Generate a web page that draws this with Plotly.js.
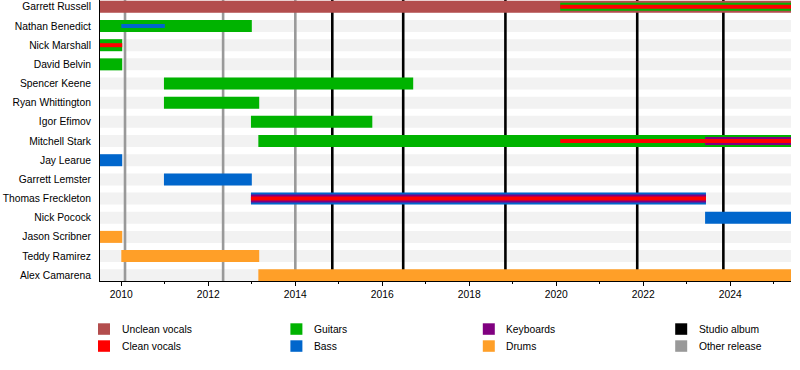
<!DOCTYPE html>
<html>
<head>
<meta charset="utf-8">
<script src="https://cdn.plot.ly/plotly-3.0.1.min.js"></script>
<style>
html,body{margin:0;padding:0;background:#fff;}
#chart{width:800px;height:370px;}
</style>
</head>
<body>
<div id="chart"></div>
<script>
// ---------------- DATA ----------------
const members = ['Garrett Russell','Nathan Benedict','Nick Marshall','David Belvin','Spencer Keene',
  'Ryan Whittington','Igor Efimov','Mitchell Stark','Jay Learue','Garrett Lemster',
  'Thomas Freckleton','Nick Pocock','Jason Scribner','Teddy Ramirez','Alex Camarena'];

const timelineStart = 2009.51;
const timelineEnd = 2025.395;
const tickYears = [2010, 2012, 2014, 2016, 2018, 2020, 2022, 2024];

// [member, from, to, rank]  (rank 1 = main role, 2 = second role, 3 = third role)
const uncleanVocals = [
  ['Garrett Russell', 2009.4, 2025.5, 1]
];
const guitars = [
  ['Nathan Benedict', 2009.4, 2013.0, 1],
  ['Nick Marshall', 2009.4, 2010.02, 1],
  ['David Belvin', 2009.4, 2010.02, 1],
  ['Spencer Keene', 2010.98, 2016.71, 1],
  ['Ryan Whittington', 2010.98, 2013.17, 1],
  ['Igor Efimov', 2012.98, 2015.77, 1],
  ['Mitchell Stark', 2013.15, 2025.5, 1],
  ['Garrett Russell', 2020.09, 2025.5, 2]
];
const bass = [
  ['Jay Learue', 2009.4, 2010.02, 1],
  ['Garrett Lemster', 2010.98, 2013.0, 1],
  ['Thomas Freckleton', 2012.98, 2023.44, 1],
  ['Nick Pocock', 2023.42, 2025.5, 1],
  ['Nathan Benedict', 2010.0, 2011.0, 3]
];
const drums = [
  ['Jason Scribner', 2009.4, 2010.02, 1],
  ['Teddy Ramirez', 2010.0, 2013.17, 1],
  ['Alex Camarena', 2013.15, 2025.5, 1]
];
const keyboards = [
  ['Thomas Freckleton', 2012.98, 2023.44, 2],
  ['Mitchell Stark', 2023.42, 2025.5, 2]
];
const cleanVocals = [
  ['Garrett Russell', 2020.09, 2025.5, 3],
  ['Nick Marshall', 2009.4, 2010.02, 3],
  ['Thomas Freckleton', 2012.98, 2023.44, 3],
  ['Mitchell Stark', 2020.09, 2025.5, 3]
];
const studioAlbums = [2014.85, 2016.48, 2018.83, 2021.86, 2023.84];
const otherReleases = [2010.085, 2012.34, 2014.0];

const legendLabels = ['Unclean vocals','Clean vocals','Guitars','Bass','Keyboards','Drums','Studio album','Other release'];

// ---------------- STYLE ----------------
const roleColors = {
  'Unclean vocals': '#b34d4d',
  'Clean vocals': '#ff0000',
  'Guitars': '#00b300',
  'Bass': '#0066cc',
  'Keyboards': '#800080',
  'Drums': '#ff9f28',
  'Studio album': '#000000',
  'Other release': '#999999'
};
const roles = [
  ['Unclean vocals', uncleanVocals],
  ['Guitars', guitars],
  ['Bass', bass],
  ['Drums', drums],
  ['Keyboards', keyboards],
  ['Clean vocals', cleanVocals]
];
const rowPx = 19.17;
const rankWidth = {1: 12 / rowPx, 2: 8 / rowPx, 3: 4 / rowPx};
const W = 800, H = 370;
const M = {l: 100, r: 9, t: 0, b: 89};
const FONT = 'Liberation Sans, Arial, sans-serif';
const FS = 10.3;

const traces = [];
[1, 2, 3].forEach(rank => {
  roles.forEach(([role, list]) => {
    const rows = list.filter(r => r[3] === rank);
    if (!rows.length) return;
    traces.push({
      type: 'bar', orientation: 'h',
      y: rows.map(r => members.indexOf(r[0])),
      base: rows.map(r => r[1]),
      x: rows.map(r => r[2] - r[1]),
      width: rows.map(() => rankWidth[rank]),
      marker: {color: roleColors[role], line: {width: 0}},
      hoverinfo: 'skip', showlegend: false, name: role
    });
  });
});

const shapes = [];
members.forEach((m, i) => {
  shapes.push({type: 'rect', layer: 'below', xref: 'paper', yref: 'y',
    x0: 0, x1: 1, y0: i - rankWidth[1] / 2, y1: i + rankWidth[1] / 2,
    fillcolor: '#f2f2f2', line: {width: 0}});
});
otherReleases.forEach(d => shapes.push({type: 'line', layer: 'below', xref: 'x', yref: 'paper',
  x0: d, x1: d, y0: 0, y1: 1, line: {color: roleColors['Other release'], width: 2.6}}));
studioAlbums.forEach(d => shapes.push({type: 'line', layer: 'below', xref: 'x', yref: 'paper',
  x0: d, x1: d, y0: 0, y1: 1, line: {color: roleColors['Studio album'], width: 2.6}}));

// legend built from labels/colors
const pw = W - M.l - M.r, ph = H - M.t - M.b;
const px2x = px => (px - M.l) / pw;
const py2y = py => (H - M.b - py) / ph;
const annotations = [];
legendLabels.forEach((lab, k) => {
  const col = Math.floor(k / 2), row = k % 2;
  const sx = 98 + col * 192.4, sy = 323.3 + row * 17;
  shapes.push({type: 'rect', xref: 'paper', yref: 'paper',
    x0: px2x(sx), x1: px2x(sx + 12), y0: py2y(sy + 11.5), y1: py2y(sy),
    fillcolor: roleColors[lab], line: {width: 0}});
  annotations.push({xref: 'paper', yref: 'paper', x: px2x(sx + 21.5), y: py2y(sy + 6.3),
    xanchor: 'left', yanchor: 'middle', showarrow: false, text: lab,
    font: {family: FONT, size: FS, color: '#000'}});
});

const layout = {
  width: W, height: H, margin: M,
  paper_bgcolor: '#fff', plot_bgcolor: '#fff',
  font: {family: FONT, size: FS, color: '#000'},
  barmode: 'overlay', showlegend: false,
  xaxis: {
    type: 'linear', range: [timelineStart, timelineEnd],
    tickvals: tickYears, ticktext: tickYears.map(String),
    ticks: 'outside', ticklen: 4, tickwidth: 1, tickcolor: '#000',
    minor: {ticks: 'outside', ticklen: 2, tickwidth: 1, tickcolor: '#000', dtick: 1, tick0: 2010, showgrid: false},
    showline: true, linecolor: '#000', linewidth: 1,
    showgrid: false, zeroline: false, automargin: false, fixedrange: true
  },
  yaxis: {
    type: 'linear', range: [(H - M.b - 6.85) / rowPx, -6.85 / rowPx],
    tickvals: members.map((m, i) => i), ticktext: members,
    ticks: '', showline: true, linecolor: '#000', linewidth: 1,
    showgrid: false, zeroline: false, automargin: false, fixedrange: true,
    ticklabelstandoff: 6
  },
  shapes: shapes,
  annotations: annotations
};

Plotly.newPlot('chart', traces, layout, {staticPlot: true, displayModeBar: false});
</script>
</body>
</html>
